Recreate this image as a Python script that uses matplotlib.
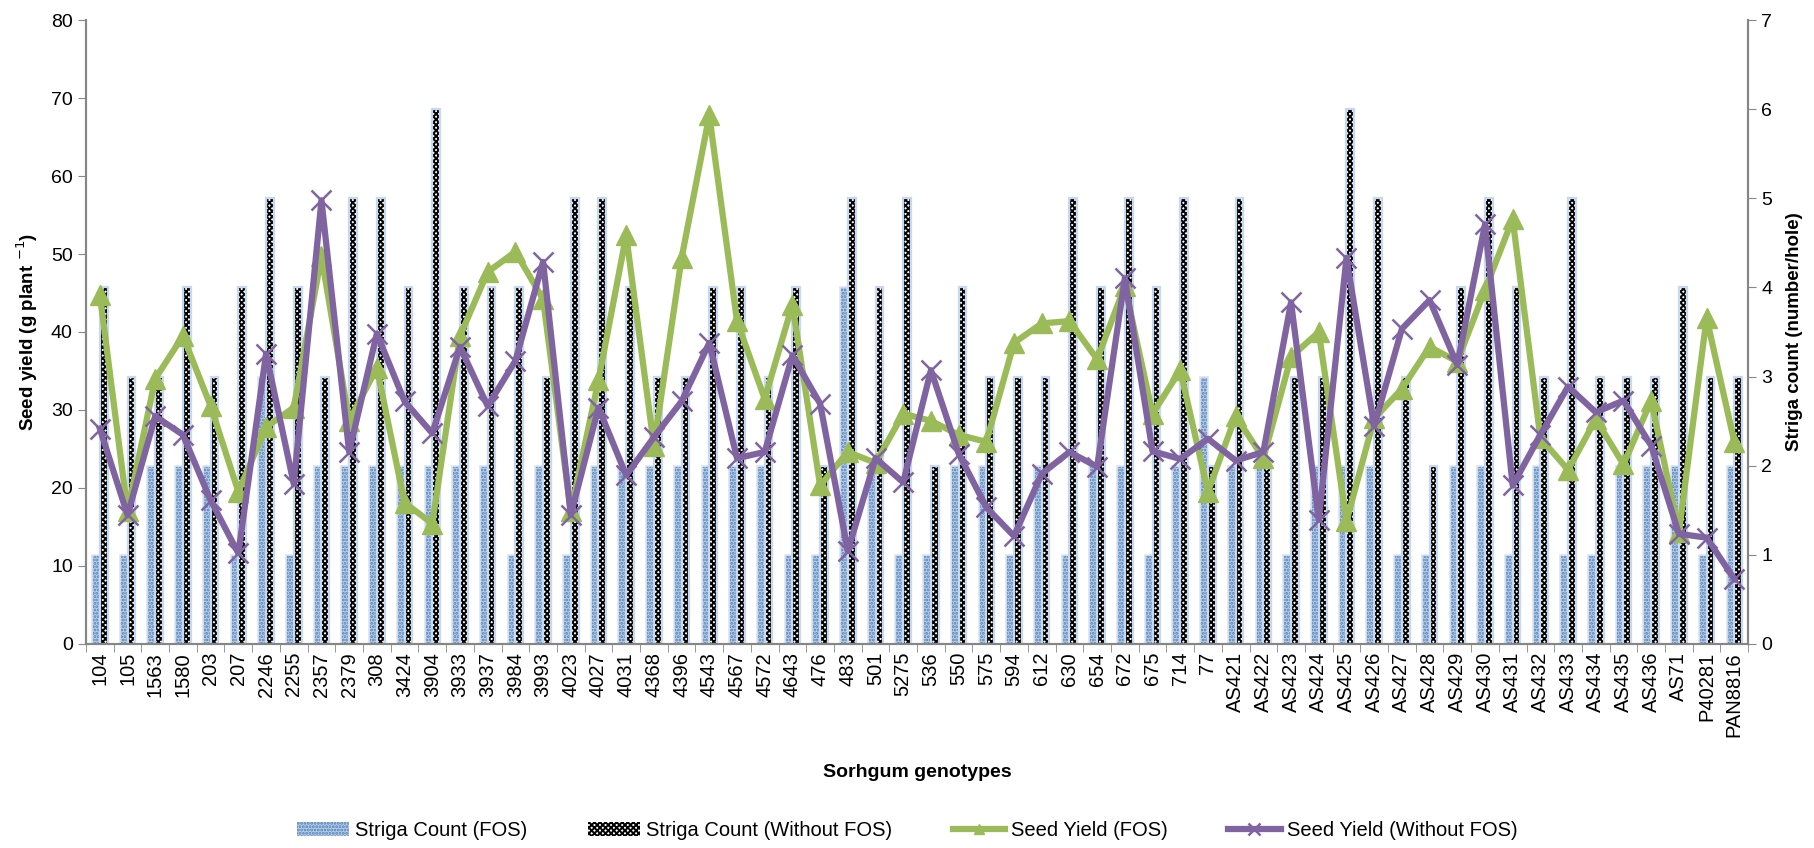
import numpy as np
import matplotlib
matplotlib.use('Agg')
import matplotlib.pyplot as plt

plt.rcParams['font.family'] = ['Liberation Sans', 'DejaVu Sans']
plt.rcParams['hatch.linewidth'] = 1.4

# data
genotypes = ['104', '105', '1563', '1580', '203', '207', '2246', '2255', '2357', '2379',
             '308', '3424', '3904', '3933', '3937', '3984', '3993', '4023', '4027', '4031',
             '4368', '4396', '4543', '4567', '4572', '4643', '476', '483', '501', '5275',
             '536', '550', '575', '594', '612', '630', '654', '672', '675', '714',
             '77', 'AS421', 'AS422', 'AS423', 'AS424', 'AS425', 'AS426', 'AS427', 'AS428', 'AS429',
             'AS430', 'AS431', 'AS432', 'AS433', 'AS434', 'AS435', 'AS436', 'AS71', 'P40281', 'PAN8816']

striga_fos = [1, 1, 2, 2, 2, 1, 3, 1, 2, 2,
              2, 2, 2, 2, 2, 1, 2, 1, 2, 2,
              2, 2, 2, 2, 2, 1, 1, 4, 2, 1,
              1, 2, 2, 1, 2, 1, 2, 2, 1, 2,
              3, 2, 2, 1, 2, 2, 2, 1, 1, 2,
              2, 1, 2, 1, 1, 2, 2, 2, 1, 2]

striga_without = [4, 3, 3, 4, 3, 4, 5, 4, 3, 5,
                  5, 4, 6, 4, 4, 4, 3, 5, 5, 4,
                  3, 3, 4, 4, 3, 4, 2, 5, 4, 5,
                  2, 4, 3, 3, 3, 5, 4, 5, 4, 5,
                  2, 5, 2, 3, 3, 6, 5, 3, 2, 4,
                  5, 4, 3, 5, 3, 3, 3, 4, 3, 3]

yield_fos = [44.8, 17.0, 34.0, 39.5, 30.5, 19.5, 27.8, 30.3, 49.7, 28.6,
             35.4, 18.1, 15.4, 39.5, 47.7, 50.3, 44.2, 17.0, 33.8, 52.4,
             25.4, 49.5, 67.8, 41.4, 31.4, 43.5, 20.3, 24.6, 23.2, 29.5,
             28.6, 26.8, 25.9, 38.6, 41.1, 41.4, 36.5, 45.9, 29.5, 35.1,
             19.5, 29.2, 23.8, 36.8, 40.0, 15.7, 28.9, 32.7, 38.1, 36.2,
             45.4, 54.5, 26.4, 22.3, 28.8, 23.0, 31.2, 14.3, 41.8, 25.9]

yield_without = [27.6, 16.5, 29.2, 26.8, 18.4, 11.6, 37.2, 20.5, 56.9, 24.6,
                 39.8, 31.1, 27.0, 38.1, 30.5, 36.3, 49.0, 16.5, 30.3, 21.6,
                 26.5, 31.1, 38.6, 23.8, 24.6, 37.0, 30.8, 11.9, 23.8, 20.7,
                 35.1, 24.4, 17.5, 13.8, 21.8, 24.6, 22.7, 46.9, 24.7, 23.7,
                 26.3, 23.5, 24.6, 43.8, 15.9, 49.5, 27.9, 40.4, 44.1, 35.8,
                 53.8, 20.3, 26.8, 33.0, 29.7, 31.2, 25.4, 14.1, 13.6, 8.3]

x = np.arange(len(genotypes))
w = 0.28

fig = plt.figure(figsize=(18.14, 8.48), dpi=100)
ax = fig.add_axes([0.0474, 0.241, 0.9163, 0.735])
ax2 = ax.twinx()

# bars on the right axis, drawn behind the lines
b1 = ax2.bar(x - w / 2, striga_fos, w, color='#b9cde5', edgecolor='#4f81bd',
             hatch='.....', linewidth=0)
ax2.bar(x - w / 2, striga_fos, w, fill=False, edgecolor='#dbe5f1', linewidth=1.2)
b2 = ax2.bar(x + w / 2, striga_without, w, color='white', edgecolor='black',
             hatch='xxxxxx', linewidth=0)
ax2.bar(x + w / 2, striga_without, w, fill=False, edgecolor='#c6d9f1', linewidth=1.6)

l1, = ax.plot(x, yield_fos, color='#9bbb59', lw=4.5, marker='^', ms=14, mec='#9bbb59')
l2, = ax.plot(x, yield_without, color='#8064a2', lw=4.5, marker='x', ms=15, mew=1.8)

ax.set_zorder(ax2.get_zorder() + 1)
ax.patch.set_visible(False)

ax.set_xlim(-0.5, len(genotypes) - 0.5)
ax.set_ylim(0, 80)
ax2.set_ylim(0, 7)
ax.set_yticks(range(0, 81, 10))
ax2.set_yticks(range(0, 8))

ax.set_xticks(x)
ax.set_xticklabels(genotypes, rotation=90, fontsize=14.5)
ax.set_xticks(np.arange(-0.5, len(genotypes), 1), minor=True)
ax.tick_params(axis='x', which='major', length=0, pad=6)
ax.tick_params(axis='x', which='minor', length=6, color='#868686', direction='out')
ax.tick_params(axis='y', labelsize=14, length=6, color='#868686', direction='out')
ax2.tick_params(axis='y', labelsize=14, length=6, color='#868686', direction='out')

for a in (ax, ax2):
    a.spines['top'].set_visible(False)
    for s in ('left', 'right', 'bottom'):
        a.spines[s].set_color('#868686')
        a.spines[s].set_linewidth(1.5)

ax.set_ylabel('Seed yield (g plant $^{-1}$)', fontsize=13.5, fontweight='bold', labelpad=8)
ax2.set_ylabel('Striga count (number/hole)', fontsize=13.5, fontweight='bold', labelpad=10)
ax.set_xlabel('Sorhgum genotypes', fontsize=14, fontweight='bold', labelpad=20)

fig.legend([b1, b2, l1, l2],
           ['Striga Count (FOS)', 'Striga Count (Without FOS)',
            'Seed Yield (FOS)', 'Seed Yield (Without FOS)'],
           loc='lower center', bbox_to_anchor=(0.5, -0.012), ncol=4, frameon=False,
           fontsize=14.5, columnspacing=3.0, handlelength=2.6, handletextpad=0.3,
           markerscale=0.55)

plt.savefig('out.png')
